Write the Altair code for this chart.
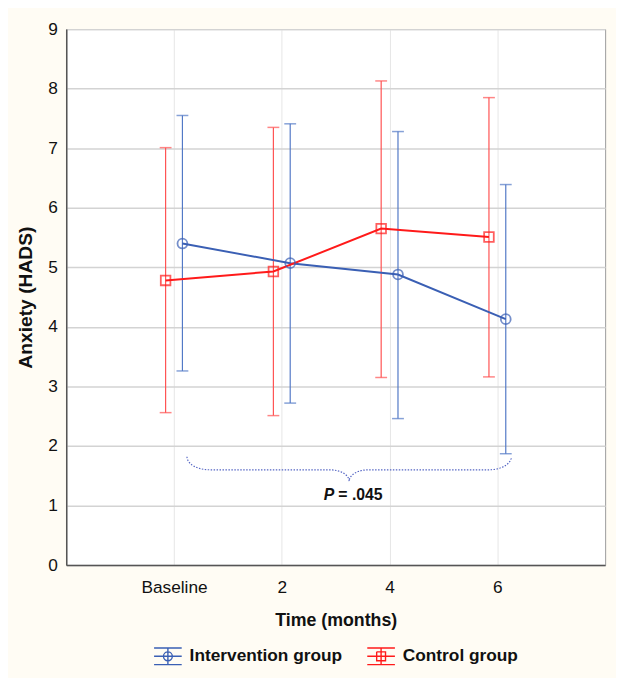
import json
import math
import altair as alt
import pandas as pd

# ---------------- data ----------------
categories = ["Baseline", "2", "4", "6"]
groups = ["Intervention group", "Control group"]

int_mean = [5.40, 5.07, 4.88, 4.13]
int_lo = [3.26, 2.72, 2.46, 1.87]
int_hi = [7.55, 7.41, 7.28, 6.39]

ctl_mean = [4.78, 4.93, 5.65, 5.51]
ctl_lo = [2.56, 2.51, 3.15, 3.16]
ctl_hi = [7.01, 7.35, 8.13, 7.85]

# annotation (brace + p-value), in data units
brace_x = [1.12, 4.13]          # left / right ends of the brace
brace_y = [1.82, 1.60, 1.41]    # end height, line height, tip height
p_text_italic = "P"
p_text_rest = "= .045"
p_text_y = 1.17

# ---------------- styling ----------------
BLUE = "#3a5fb4"
BLUE_BAR = "#5279c6"
RED = "#ff1a1a"
RED_BAR = "#ff5252"
FONT = "Liberation Sans"
OFFSET = 0.078

rows = []
for g, m, lo, hi in [(groups[0], int_mean, int_lo, int_hi), (groups[1], ctl_mean, ctl_lo, ctl_hi)]:
    for i, c in enumerate(categories):
        rows.append({"group": g, "idx": i + 1, "cat": c, "mean": m[i], "lo": lo[i], "hi": hi[i]})
df = pd.DataFrame(rows)

xscale = alt.Scale(domain=[0, 5], nice=False, zero=False)
yscale = alt.Scale(domain=[0, 9], nice=False, zero=True)
cscale = alt.Scale(domain=groups, range=[BLUE, RED])
bscale = alt.Scale(domain=groups, range=[BLUE_BAR, RED_BAR])

label_expr = json.dumps(categories) + "[datum.value - 1]"

base = alt.Chart(df).transform_calculate(
    xpos=f"datum.idx + (datum.group == '{groups[0]}' ? {OFFSET} : -{OFFSET})"
)

x_enc = alt.X(
    "xpos:Q", scale=xscale,
    axis=alt.Axis(values=[1, 2, 3, 4], labelExpr=label_expr, title="Time (months)",
                  grid=True, gridColor="#e6e6e6", gridWidth=1, ticks=False,
                  labelPadding=14, titlePadding=16, domainColor="#555555", domainWidth=1.5,
                  labelFontSize=17.5, titleFontSize=18, labelFont=FONT, titleFont=FONT,
                  titleFontWeight="bold", labelColor="#111", titleColor="#111"),
)
y_axis = alt.Axis(values=list(range(10)), format="d", title="Anxiety (HADS)", grid=True,
                  gridColor="#d3d3d3", gridWidth=1.5, ticks=False, labelPadding=9, titlePadding=12,
                  domainColor="#555555", domainWidth=1.5, labelFontSize=17.5, titleFontSize=19.5,
                  labelFont=FONT, titleFont=FONT, titleFontWeight="bold",
                  labelColor="#111", titleColor="#111")

# legend layer (placed first so its legend settings win): invisible marks, error-bar style icons.
# Marker outlines are traced forward and back so the symbol has no filled area.
bars_path = "M-1,-0.6H1M-1,0H1M-1,0.6H1M0,-0.6V0.6"
circ_path = (bars_path +
             "M0.32,0A0.32,0.32,0,1,1,-0.32,0A0.32,0.32,0,1,1,0.32,0"
             "A0.32,0.32,0,1,0,-0.32,0A0.32,0.32,0,1,0,0.32,0")
sq_path = (bars_path +
           "M-0.32,-0.32H0.32V0.32H-0.32V-0.32V0.32H0.32V-0.32H-0.32")
leg = alt.Legend(orient="none", legendX=88, legendY=620, direction="horizontal",
                 symbolSize=784, symbolStrokeWidth=1.4, symbolFillColor="transparent",
                 symbolOpacity=1, labelFont=FONT, labelFontSize=17.5, labelFontWeight="bold",
                 labelColor="#111", labelOffset=7, columnPadding=22, padding=0)
legend_layer = base.mark_point(filled=False, strokeWidth=1.4, opacity=0).encode(
    x=x_enc,
    y=alt.Y("mean:Q", scale=yscale, axis=y_axis),
    shape=alt.Shape("group:N", scale=alt.Scale(domain=groups, range=[circ_path, sq_path]),
                    title=None, legend=leg),
    color=alt.Color("group:N", scale=cscale, title=None, legend=leg),
)

color_enc = alt.Color("group:N", scale=cscale, title=None)

# error bars: vertical rules + caps
bar_rules = base.mark_rule(strokeWidth=1.2).encode(
    x="xpos:Q", y="lo:Q", y2="hi:Q",
    stroke=alt.Stroke("group:N", scale=bscale, legend=None),
)
caps_hi = base.mark_tick(orient="horizontal", size=12, thickness=1.5).encode(
    x="xpos:Q", y="hi:Q", fill=alt.Fill("group:N", scale=bscale, legend=None),
)
caps_lo = base.mark_tick(orient="horizontal", size=12, thickness=1.5).encode(
    x="xpos:Q", y="lo:Q", fill=alt.Fill("group:N", scale=bscale, legend=None),
)

lines = base.mark_line(strokeWidth=2).encode(
    x="xpos:Q", y="mean:Q", color=color_enc, detail="group:N", order="idx:Q"
)
pts_int = base.transform_filter(f"datum.group == '{groups[0]}'").mark_point(
    shape="circle", filled=False, size=100, strokeWidth=1.8
).encode(x="xpos:Q", y="mean:Q", color=color_enc)
pts_ctl = base.transform_filter(f"datum.group == '{groups[1]}'").mark_point(
    shape="square", filled=False, size=95, strokeWidth=1.8
).encode(x="xpos:Q", y="mean:Q", color=color_enc)

# brace annotation built from its anchors
x0, x1 = brace_x
y_end, y_line, y_tip = brace_y
mid = (x0 + x1) / 2
rx_end, rx_mid = 0.21, 0.18
half = []
n = 12
for k in range(n + 1):
    t = math.pi / 2 * k / n
    half.append((x0 + rx_end * (1 - math.cos(t)), y_line + (y_end - y_line) * (1 - math.sin(t))))
for k in range(n + 1):
    t = math.pi / 2 * k / n
    half.append((mid - rx_mid + rx_mid * math.sin(t), y_line - (y_line - y_tip) * (1 - math.cos(t))))
full = half + [(2 * mid - x, y) for (x, y) in reversed(half)]
brace_df = pd.DataFrame({"bx": [p[0] for p in full], "by": [p[1] for p in full], "o": list(range(len(full)))})
brace = alt.Chart(brace_df).mark_line(color="#5566c4", strokeWidth=1.2, strokeDash=[1.5, 1.5]).encode(
    x="bx:Q", y="by:Q", order="o:Q"
)

ptxt_df = pd.DataFrame({"tx": [mid], "ty": [p_text_y]})
p1 = alt.Chart(ptxt_df).mark_text(text=p_text_italic, font=FONT, fontSize=16, fontWeight="bold",
                                   fontStyle="italic", align="right", baseline="middle", dx=-15,
                                   color="#111").encode(x="tx:Q", y="ty:Q")
p2 = alt.Chart(ptxt_df).mark_text(text=p_text_rest, font=FONT, fontSize=16, fontWeight="bold",
                                   align="left", baseline="middle", dx=-11,
                                   color="#111").encode(x="tx:Q", y="ty:Q")

chart = alt.layer(
    legend_layer, bar_rules, caps_hi, caps_lo, lines, pts_int, pts_ctl, brace, p1, p2
).properties(
    width=546, height=543,
    autosize=alt.AutoSizeParams(type="none"),
    padding={"left": 59, "top": 17, "right": 11, "bottom": 110},
    background="#fffcf4",
).configure_view(
    stroke="#9a9a9a", strokeWidth=1, fill="white"
)

chart.save("out.html", embed_options={"renderer": "svg", "actions": False})
